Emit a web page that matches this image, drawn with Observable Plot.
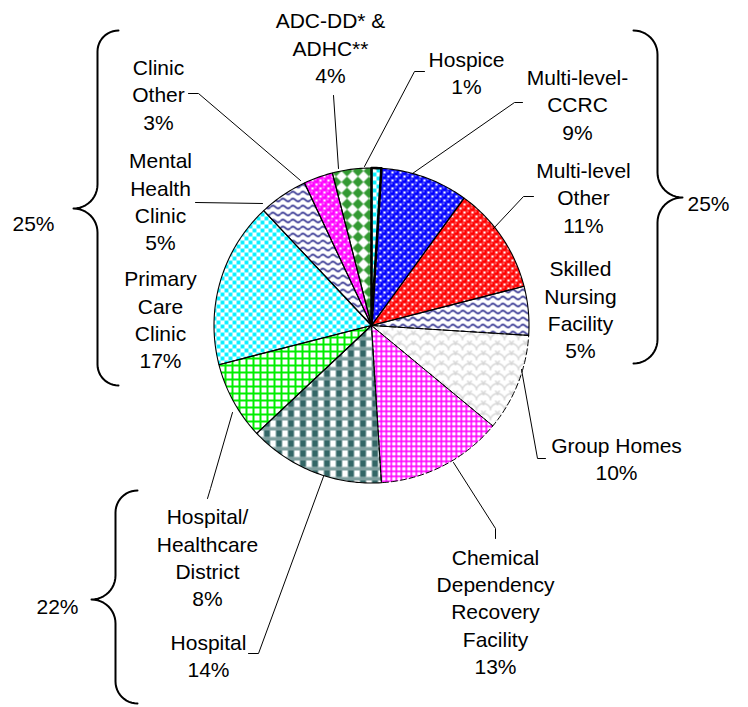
<!DOCTYPE html>
<html>
<head>
<meta charset="utf-8">
<script src="https://cdn.jsdelivr.net/npm/d3@7"></script>
<script src="https://cdn.jsdelivr.net/npm/@observablehq/plot@0.6"></script>
<style>
  html, body { margin: 0; padding: 0; background: #fff; }
  #chart { width: 748px; height: 707px; }
</style>
</head>
<body>
<svg width="0" height="0" style="position:absolute">
  <defs>
    <pattern id="p-cyan" patternUnits="userSpaceOnUse" width="8" height="8">
      <rect width="8" height="8" fill="#fff"/>
      <rect x="0.1" y="0.1" width="3.8" height="3.8" fill="#00f0ff"/>
      <rect x="4.1" y="4.1" width="3.8" height="3.8" fill="#00f0ff"/>
    </pattern>
    <pattern id="p-blue" patternUnits="userSpaceOnUse" width="8" height="8">
      <rect width="8" height="8" fill="#fff"/>
      <g fill="#0000ff">
        <circle cx="4" cy="4" r="2.9"/><circle cx="0" cy="0" r="2.9"/><circle cx="8" cy="0" r="2.9"/>
        <circle cx="0" cy="8" r="2.9"/><circle cx="8" cy="8" r="2.9"/>
      </g>
      <g fill="#b8b8ff">
        <circle cx="3.2" cy="3.1" r="0.8"/><circle cx="7.2" cy="7.1" r="0.8"/>
      </g>
    </pattern>
    <pattern id="p-red" patternUnits="userSpaceOnUse" width="8" height="8">
      <rect width="8" height="8" fill="#fff"/>
      <g fill="#ff0000">
        <circle cx="4" cy="4" r="2.9"/><circle cx="0" cy="0" r="2.9"/><circle cx="8" cy="0" r="2.9"/>
        <circle cx="0" cy="8" r="2.9"/><circle cx="8" cy="8" r="2.9"/>
      </g>
      <g fill="#ffb8b8">
        <circle cx="3.2" cy="3.1" r="0.8"/><circle cx="7.2" cy="7.1" r="0.8"/>
      </g>
    </pattern>
    <pattern id="p-magsph" patternUnits="userSpaceOnUse" width="8" height="8">
      <rect width="8" height="8" fill="#fff"/>
      <g fill="#ff00ff">
        <circle cx="4" cy="4" r="2.9"/><circle cx="0" cy="0" r="2.9"/><circle cx="8" cy="0" r="2.9"/>
        <circle cx="0" cy="8" r="2.9"/><circle cx="8" cy="8" r="2.9"/>
      </g>
      <g fill="#ffc8ff">
        <circle cx="3.2" cy="3.1" r="0.8"/><circle cx="7.2" cy="7.1" r="0.8"/>
      </g>
    </pattern>
    <pattern id="p-wave" patternUnits="userSpaceOnUse" width="10" height="7">
      <rect width="10" height="7" fill="#fff"/>
      <path d="M0 3.5 Q2.5 0.6 5 3.5 T10 3.5" fill="none" stroke="#2a2a8c" stroke-width="1.7"/>
    </pattern>
    <pattern id="p-scale" patternUnits="userSpaceOnUse" width="14" height="10">
      <rect width="14" height="10" fill="#fff"/>
      <path d="M0 10 A7 7 0 0 1 14 10 M-7 5 A7 7 0 0 1 7 5 M7 5 A7 7 0 0 1 21 5 M0 0 A7 7 0 0 1 14 0" fill="none" stroke="#d6d6d6" stroke-width="1.3"/>
    </pattern>
    <pattern id="p-maggrid" patternUnits="userSpaceOnUse" width="5" height="5">
      <rect width="5" height="5" fill="#ff00ff"/>
      <rect x="1.6" y="1.6" width="3.4" height="3.4" fill="#fff"/>
    </pattern>
    <pattern id="p-greengrid" patternUnits="userSpaceOnUse" width="7" height="7">
      <rect width="7" height="7" fill="#00ee00"/>
      <rect x="2" y="2" width="5" height="5" fill="#fff"/>
    </pattern>
    <pattern id="p-plaid" patternUnits="userSpaceOnUse" width="12" height="10">
      <rect width="12" height="10" fill="#fff"/>
      <rect x="0" y="6.5" width="12" height="3.5" fill="#7f9f9f"/>
      <rect x="5" y="0" width="1" height="6.5" fill="#8fabab"/>
      <rect x="11" y="0" width="1" height="6.5" fill="#8fabab"/>
      <rect x="0" y="0" width="5" height="6.5" fill="#336666"/>
    </pattern>
    <pattern id="p-diamond" patternUnits="userSpaceOnUse" width="11" height="11">
      <rect width="11" height="11" fill="#fff"/>
      <polygon points="5.5,0 11,5.5 5.5,11 0,5.5" fill="#339933"/>
    </pattern>
  </defs>
</svg>
<div id="chart"></div>
<script>
// ---- data ----
const categories = ["Hospice", "Multi-level-CCRC", "Multi-level Other", "Skilled Nursing Facility",
  "Group Homes", "Chemical Dependency Recovery Facility", "Hospital", "Hospital/Healthcare District",
  "Primary Care Clinic", "Mental Health Clinic", "Clinic Other", "ADC-DD* & ADHC**"];
const shares = [1, 9, 11, 5, 10, 13, 14, 8, 17, 5, 3, 4];
const labelTexts = ["Hospice", "Multi-level-\nCCRC", "Multi-level\nOther", "Skilled\nNursing\nFacility",
  "Group Homes", "Chemical\nDependency\nRecovery\nFacility", "Hospital", "Hospital/\nHealthcare\nDistrict",
  "Primary\nCare\nClinic", "Mental\nHealth\nClinic", "Clinic\nOther", "ADC-DD* &\nADHC**"];
const groupRight = ["Multi-level-CCRC", "Multi-level Other", "Skilled Nursing Facility"];
const groupLeft = ["Primary Care Clinic", "Mental Health Clinic", "Clinic Other"];
const groupHospital = ["Hospital/Healthcare District", "Hospital"];

// ---- styles ----
const patterns = ["url(#p-cyan)", "url(#p-blue)", "url(#p-red)", "url(#p-wave)", "url(#p-scale)",
  "url(#p-maggrid)", "url(#p-plaid)", "url(#p-greengrid)", "url(#p-cyan)", "url(#p-wave)",
  "url(#p-magsph)", "url(#p-diamond)"];
const dashed = ["Group Homes", "Chemical Dependency Recovery Facility"];
const thick = ["Hospice"];

// ---- layout (pixels) ----
const W = 748, H = 707;
const pie = {cx: 371, cy: 325, r: 157.5};
const labelPos = {
  "Hospice": [466, 71.5],
  "Multi-level-CCRC": [577, 103],
  "Multi-level Other": [583, 196],
  "Skilled Nursing Facility": [580, 308],
  "Group Homes": [616, 457],
  "Chemical Dependency Recovery Facility": [495, 610],
  "Hospital": [208, 654],
  "Hospital/Healthcare District": [207, 556],
  "Primary Care Clinic": [160, 318],
  "Mental Health Clinic": [160, 200],
  "Clinic Other": [158, 93],
  "ADC-DD* & ADHC**": [330, 46.5]
};
const leaderPaths = {
  "Hospice": [[424, 71], [414, 71], [364, 166]],
  "Multi-level-CCRC": [[522, 102], [514, 102], [412, 173]],
  "Multi-level Other": [[533, 196], [523, 196], [493, 228]],
  "Group Homes": [[545, 458], [537, 458], [521, 369]],
  "Chemical Dependency Recovery Facility": [[495, 538], [495, 528], [453, 462]],
  "Hospital": [[248, 653], [258, 653], [323, 476]],
  "Hospital/Healthcare District": [[207, 498], [210, 488], [232, 412]],
  "Primary Care Clinic": [],
  "Mental Health Clinic": [[195, 202], [262, 203]],
  "Clinic Other": [[188, 93], [198, 93], [300, 180]],
  "ADC-DD* & ADHC**": [[333, 95], [338, 168]]
};
const braces = [
  {id: "left", members: groupLeft, xv: 97, yTop: 30, yBot: 385, tipY: 208, s: -1, rh: 21, rt: 24, label: [33, 224]},
  {id: "right", members: groupRight, xv: 657, yTop: 30, yBot: 363, tipY: 197, s: 1, rh: 24, rt: 25, label: [708, 204]},
  {id: "hosp", members: groupHospital, xv: 115, yTop: 490, yBot: 703, tipY: 599, s: -1, rh: 22, rt: 24, label: [57, 607]}
];

// ---- geometry ----
const arcs = d3.pie().sort(null).value(d => d)(shares);
const polys = [];
arcs.forEach((a, i) => {
  const name = categories[i];
  polys.push({name, x: pie.cx, y: pie.cy});
  const n = Math.max(4, Math.ceil((a.endAngle - a.startAngle) / (Math.PI / 180)));
  for (let k = 0; k <= n; k++) {
    const t = a.startAngle + (a.endAngle - a.startAngle) * k / n;
    polys.push({name, x: pie.cx + pie.r * Math.sin(t), y: pie.cy - pie.r * Math.cos(t)});
  }
  polys.push({name, x: pie.cx, y: pie.cy});
});

const leaders = [];
Object.entries(leaderPaths).forEach(([name, pts]) => pts.forEach(([x, y]) => leaders.push({name, x, y})));

const labels = categories.map((c, i) => ({
  name: c, x: labelPos[c][0], y: labelPos[c][1], text: labelTexts[i] + "\n" + shares[i] + "%"
}));

function arcPts(cx, cy, r, a0, a1, id, out) {
  const n = 12;
  for (let k = 0; k <= n; k++) {
    const t = (a0 + (a1 - a0) * k / n) * Math.PI / 180;
    out.push({id, x: cx + r * Math.cos(t), y: cy + r * Math.sin(t)});
  }
}
const bracePts = [];
const braceLabels = [];
braces.forEach(b => {
  const {xv, yTop, yBot, tipY, s, rh, rt, id} = b;
  arcPts(xv - s * rh, yTop + rh, rh, -90, -90 + s * 90, id, bracePts);
  arcPts(xv + s * rt, tipY - rt, rt, s < 0 ? 0 : 180, 90, id, bracePts);
  arcPts(xv + s * rt, tipY + rt, rt, -90, s < 0 ? 0 : -180, id, bracePts);
  arcPts(xv - s * rh, yBot - rh, rh, s < 0 ? 180 : 0, 90, id, bracePts);
  const sum = d3.sum(b.members, m => shares[categories.indexOf(m)]);
  braceLabels.push({x: b.label[0], y: b.label[1], text: sum + "%"});
});

const font = "'Liberation Sans', Arial, Helvetica, sans-serif";
const chart = Plot.plot({
  width: W, height: H, margin: 0,
  style: {fontFamily: font, fontSize: "21px", background: "#fff", color: "#000"},
  x: {domain: [0, W], range: [0, W], axis: null},
  y: {domain: [0, H], range: [0, H], axis: null},
  color: {type: "ordinal", domain: categories, range: patterns},
  marks: [
    Plot.line(polys, {x: "x", y: "y", z: "name", fill: "name", stroke: null, curve: "linear"}),
    Plot.line(polys.filter(d => dashed.includes(d.name)), {x: "x", y: "y", z: "name", stroke: "#000", strokeWidth: 1, strokeDasharray: "6,3", curve: "linear"}),
    Plot.line(polys.filter(d => !dashed.includes(d.name)), {x: "x", y: "y", z: "name", stroke: "#000", strokeWidth: 1.1, curve: "linear"}),
    Plot.line(polys.filter(d => thick.includes(d.name)), {x: "x", y: "y", z: "name", stroke: "#000", strokeWidth: 2.6, curve: "linear"}),
    Plot.line(leaders, {x: "x", y: "y", z: "name", stroke: "#000", strokeWidth: 1, curve: "linear"}),
    Plot.line(bracePts, {x: "x", y: "y", z: "id", stroke: "#000", strokeWidth: 2, curve: "linear"}),
    Plot.text(labels, {x: "x", y: "y", text: "text", fontSize: 21, lineHeight: 1.3, fill: "#000", fontFamily: font}),
    Plot.text(braceLabels, {x: "x", y: "y", text: "text", fontSize: 21, fill: "#000", fontFamily: font})
  ]
});
document.getElementById("chart").appendChild(chart);
</script>
</body>
</html>
